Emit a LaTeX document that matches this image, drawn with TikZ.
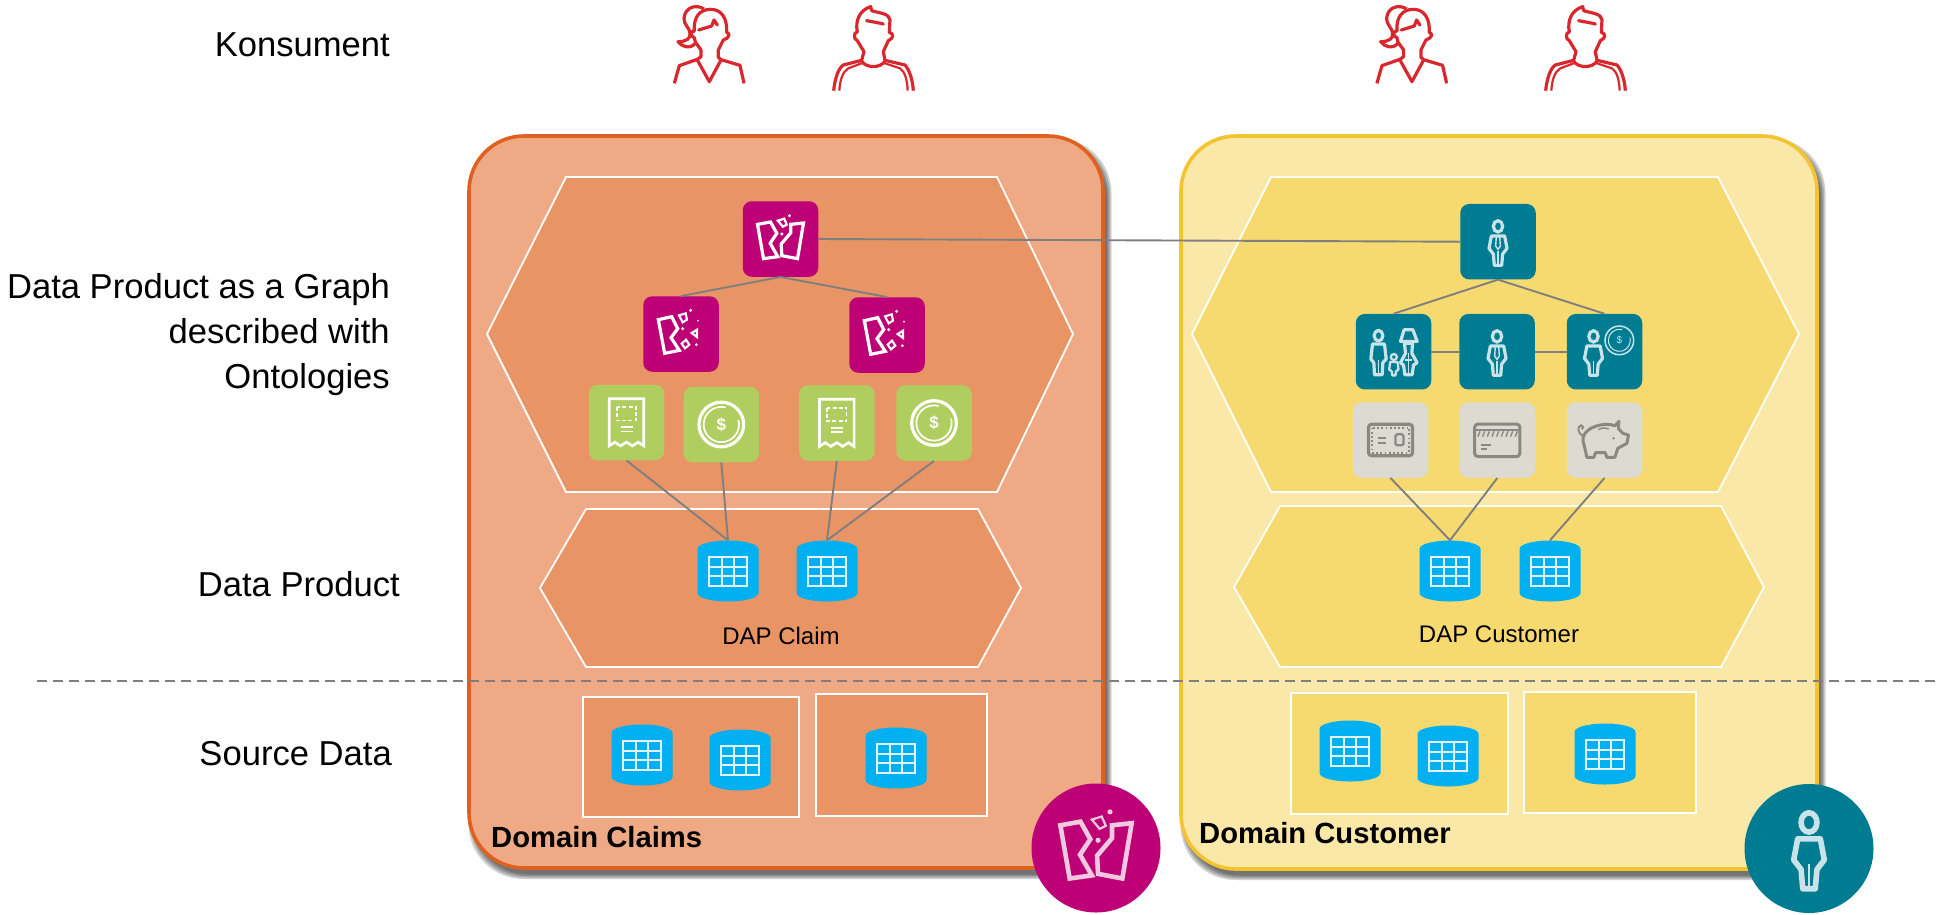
\documentclass[tikz,border=0pt]{standalone}
\usepackage{fontspec}
\setmainfont{Liberation Sans}
\definecolor{claimline}{HTML}{E0601F}
\definecolor{claimfill}{HTML}{EFAA85}
\definecolor{claimhex}{HTML}{E99465}
\definecolor{custline}{HTML}{F4C430}
\definecolor{custfill}{HTML}{FAE8A8}
\definecolor{custhex}{HTML}{F7DA6F}
\definecolor{magentaB}{HTML}{BE0076}
\definecolor{tealB}{HTML}{007C92}
\definecolor{greenB}{HTML}{AFCE5F}
\definecolor{greyB}{HTML}{DDDAD2}
\definecolor{greyI}{HTML}{8A8880}
\definecolor{dbblue}{HTML}{00B0F0}
\definecolor{dbgrid}{HTML}{E3F4FC}
\definecolor{linkgrey}{HTML}{7F7F7F}
\definecolor{userred}{HTML}{D9272E}
\definecolor{pplblue}{HTML}{C9E3E9}
\definecolor{pinklite}{HTML}{F0C8E0}
\newcommand\iconlw{3.2pt}
\tikzset{
  lbl/.style={inner sep=0pt,anchor=east,align=right,font=\fontsize{34.6}{44.6}\selectfont},
  daplbl/.style={inner sep=0pt,font=\fontsize{24}{28}\selectfont},
  domlbl/.style={inner sep=0pt,anchor=west,font=\fontsize{29.2}{33}\bfseries\selectfont},
  panel/.style={rectangle,draw,line width=3.6pt,rounded corners=55pt,minimum width=#1},
  hexa/.style={line width=1.8pt,draw=white},
  srcbox/.style={line width=2pt,draw=white},
  iconbox/.style={rectangle,rounded corners=9pt,minimum size=75.5pt,inner sep=0pt},
  dbanchor/.style={rectangle,minimum size=61pt,inner sep=0pt},
  disc/.style={circle,minimum size=129pt,inner sep=0pt},
  link/.style={draw=linkgrey,line width=1.9pt},
  zoomed/.style={x=.3333pt,y=-.3333pt},
  ic/.style={draw=#1,line width=\iconlw,line join=miter},
  pics/dbicon/.style={code={
    \fill[dbblue] (-30.5,-22) .. controls (-30.5,-27) and (-16,-30.5) .. (0,-30.5)
      .. controls (16,-30.5) and (30.5,-27) .. (30.5,-22) -- (30.5,22)
      .. controls (30.5,27) and (16,30.5) .. (0,30.5)
      .. controls (-16,30.5) and (-30.5,27) .. (-30.5,22) -- cycle;
    \fill[dbgrid] (-20,-15.5) rectangle (20,15.5);
    \foreach \cx in {-18.2,-5.4,7.4}{\foreach \cy in {-13,-3.3,6.4}{
      \fill[dbblue] (\cx,\cy) rectangle (\cx+10.8,\cy+7.6);}}
  }},
  pics/claimwhole/.style={code={
    \begin{scope}[zoomed,shift={(-661,-177)}]
      \draw[ic=#1] (592,133)--(631,126)--(650,160)--(630,190)--(653,230)--(610,236)--cycle;
      \draw[ic=#1] (692,133)--(730,129)--(712,236)--(665,227)--(663,192)--(692,158)--cycle;
      \draw[ic=#1,line width=2.2pt] (653,122)--(672,116)--(680,134)--(668,140)--cycle;
      \fill[#1] (688,107) circle[radius=5] (665,162) circle[radius=5];
    \end{scope}
  }},
  pics/claimshard/.style={code={
    \begin{scope}[zoomed,shift={(-362,-461)}]
      \draw[ic=#1] (294,418)--(334,409)--(352,445)--(332,472)--(357,510)--(313,519)--cycle;
      \draw[ic=#1,line width=2.1pt] (356,405)--(376,399)--(380,418)--(367,426)--cycle;
      \draw[ic=#1,line width=2.1pt] (394,458)--(410,448)--(410,470)--cycle;
      \draw[ic=#1,line width=2.1pt] (364,490)--(377,478)--(387,493)--(374,504)--cycle;
      \fill[#1] (391,390) circle[radius=5] (413,421) circle[radius=3] (367,445) circle[radius=5] (408,493) circle[radius=4.5];
    \end{scope}
  }},
  pics/receipt/.style={code={
    \begin{scope}[zoomed,shift={(-199,-728)}]
      \draw[ic=#1,line width=2.7pt] (147,657)--(251,657)--(251,798)--(234,787)--(217,798)--(199,787)--(181,798)--(164,787)--(147,798)--cycle;
      \draw[ic=#1,line width=1.7pt,dash pattern=on 4pt off 2.2pt] (170,682) rectangle (228,722);
      \draw[ic=#1,line width=1.7pt] (182,742)--(217,742) (182,755)--(217,755);
    \end{scope}
  }},
  pics/coin/.style={code={
    \begin{scope}[zoomed]
      \draw[ic=#1,line width=3.2pt] (0,0) circle[radius=67];
      \draw[ic=#1,line width=1.7pt] ([shift={(-15:53)}]0,0) arc[start angle=-15,end angle=285,radius=53];
      \node[text=#1,inner sep=0pt,font=\fontsize{17}{17}\bfseries\selectfont] (dollar) at (0,0) {\$};
    \end{scope}
  }},
  pics/personPlain/.style={code={
    \begin{scope}[zoomed,shift={(-534,-185)}]
      \draw[ic=#1] (534,139) ellipse[x radius=14,y radius=17];
      \draw[ic=#1,line join=round] (514,168)--(554,168)--(561,205)--(548,222)--(545,256)--(523,256)--(520,222)--(507,205)--cycle;
      \draw[ic=#1,line width=1.5pt] (534,212)--(534,256);
    \end{scope}
  }},
  pics/personTie/.style={code={
    \pic {personPlain=#1};
    \begin{scope}[zoomed,shift={(-534,-185)}]
      \draw[ic=#1,line width=1.4pt] (529,168)--(527,198)--(534,208)--(541,198)--(539,168);
    \end{scope}
  }},
  pics/personCoin/.style={code={
    \pic at (-11,0) {personPlain=#1};
    \begin{scope}[zoomed,shift={(-853.5,-515)}]
      \draw[ic=#1,line width=1.5pt] (898,481) circle[radius=43];
      \draw[ic=#1,line width=1pt] ([shift={(-15:33)}]898,481) arc[start angle=-15,end angle=285,radius=33];
      \node[text=#1,inner sep=0pt,font=\fontsize{10}{10}\selectfont] (dollarsmall) at (898,481) {\$};
    \end{scope}
  }},
  pics/family/.style={code={
    \begin{scope}[zoomed,shift={(-220,-515)}]
      \draw[ic=#1,line join=round] (175,467) ellipse[x radius=13,y radius=16];
      \draw[ic=#1,line join=round] (157,492)--(193,492)--(198,537)--(188,548)--(186,584)--(163,584)--(161,548)--(152,537)--cycle;
      \draw[ic=#1,line width=1.5pt] (175,540)--(175,584);
      \draw[ic=#1,line width=2.3pt] (221,531) circle[radius=9];
      \draw[ic=#1,line width=2.3pt,line join=round] (210,546)--(232,546)--(235,568)--(227,575)--(226,586)--(216,586)--(215,575)--(207,568)--cycle;
      \draw[ic=#1,line join=round] (252,449)--(278,449)--(291,484)--(241,484)--cycle;
      \draw[ic=#1,line join=round] (253,490)--(277,490)--(275,520)--(291,548)--(280,555)--(276,584)--(254,584)--(250,555)--(241,548)--(256,520)--cycle;
      \draw[ic=#1,line width=1.5pt] (255,540)--(276,540) (265,520)--(265,584);
    \end{scope}
  }},
  pics/stamp/.style={code={
    \begin{scope}[zoomed,shift={(-211,-787)}]
      \draw[ic=#1,line width=3.2pt,rounded corners=3pt] (145,740) rectangle (277,834);
      \draw[ic=#1,line width=1.8pt,dash pattern=on 1.8pt off 2.4pt] (155,750) rectangle (267,825);
      \draw[ic=#1,line width=1.7pt] (172,780)--(197,780) (172,797)--(197,797);
      \draw[ic=#1,line width=2.2pt,rounded corners=1.5pt] (226,770) rectangle (250,803);
    \end{scope}
  }},
  pics/card/.style={code={
    \begin{scope}[zoomed,shift={(-532,-780)}]
      \draw[ic=#1,line width=3pt,rounded corners=3.5pt] (464,732) rectangle (600,830);
      \draw[ic=#1,line width=1.4pt] (464,750)--(600,750);
      \foreach \sx in {474,488,...,586}{\draw[ic=#1,line width=1.4pt] (\sx,770)--(\sx+6,754);}
      \draw[ic=#1,line width=1.6pt] (483,795)--(513,795) (483,807)--(500,807);
    \end{scope}
  }},
  pics/piggy/.style={code={
    \begin{scope}[zoomed,shift={(-853,-780)}]
      \draw[ic=#1,line width=3pt,line join=round] (789,772) .. controls (795,742) and (850,725) .. (885,737)
        -- (896,724) -- (895,746) -- (908,760) -- (925,765) -- (920,790) -- (893,805)
        -- (884,832) -- (860,832) -- (855,818) -- (826,818) -- (821,832) -- (800,832)
        -- (793,800) .. controls (789,790) and (788,782) .. (789,772) -- cycle;
      \draw[ic=#1,line width=1.9pt] (789,768) .. controls (772,762) and (770,738) .. (783,736) .. controls (790,736) and (791,746) .. (785,748);
      \draw[ic=#1,line width=1.5pt] (835,749) .. controls (845,743) and (855,743) .. (866,747);
      \fill[#1] (880,775) circle[radius=4];
    \end{scope}
  }},
  pics/womanIcon/.style={code={
    \begin{scope}[zoomed]
      \draw[ic=userred,line join=round] (103,250) -- (118,197) -- (172,178) -- (183,170) -- (183,150) -- (166,126) -- (163,113) .. controls (150,110) and (150,92) .. (163,93)
        .. controls (160,50) and (180,28) .. (212,28) .. controls (245,28) and (262,55) .. (260,97)
        .. controls (272,100) and (268,115) .. (250,120) -- (235,150) -- (235,172) -- (243,179) -- (300,196) -- (312,250);
      \draw[ic=userred,line join=round] (172,180) -- (208,245) -- (243,180);
      \draw[ic=userred,line join=round] (192,27) .. controls (170,12) and (135,20) .. (132,55) .. controls (130,72) and (150,85) .. (150,100)
        .. controls (152,115) and (140,125) .. (114,125) .. controls (125,140) and (150,150) .. (168,128);
      \draw[ic=userred,line cap=round,line join=round] (176,90) -- (215,78) -- (222,60) -- (232,75);
    \end{scope}
  }},
  pics/manIcon/.style={code={
    \begin{scope}[zoomed]
      \draw[ic=userred,line join=round] (581,272) .. controls (585,235) and (595,205) .. (610,195) -- (665,181) -- (672,155) -- (652,122) .. controls (640,118) and (640,97) .. (652,96)
        .. controls (645,60) and (660,30) .. (692,20) -- (695,32) .. controls (720,40) and (748,40) .. (750,60) -- (748,97) .. controls (762,100) and (762,115) .. (745,122) -- (730,155) -- (735,181)
        -- (795,195) .. controls (805,205) and (818,235) .. (820,272);
      \draw[ic=userred,line width=2.2pt] (598,272) .. controls (600,240) and (608,215) .. (625,205) -- (665,190);
      \draw[ic=userred,line width=2.2pt] (803,272) .. controls (802,240) and (795,215) .. (780,205) -- (735,190);
      \draw[ic=userred] (665,184) .. controls (680,205) and (720,205) .. (735,184);
      \draw[ic=userred,line cap=round] (680,62) .. controls (700,66) and (715,68) .. (730,72);
    \end{scope}
  }},
}
\newcommand\dbat[2]{\node[dbanchor] (#1) at (#2) {}; \pic at (#1) {dbicon};}
\begin{document}
\begin{tikzpicture}[x=1pt,y=-1pt]
\useasboundingbox (0,0) rectangle (1941,914);
% shadows
\foreach \b in {0,1.5,3,4.5}{
  \fill[black,opacity=.18,rounded corners=55pt] (469+4-\b,136+6.5-\b) rectangle (1103+4+\b,868+6.5+\b);
  \fill[black,opacity=.18,rounded corners=55pt] (1181+4-\b,136+6.5-\b) rectangle (1817+4+\b,869+6.5+\b);
}
% panels
\node[panel=634pt,minimum height=732pt,draw=claimline,fill=claimfill] (claimspanel) at (786,502) {};
\node[panel=636pt,minimum height=733pt,draw=custline,fill=custfill] (custpanel) at (1499,502.5) {};
% hexagons
\fill[claimhex] (487,334)--(566,177)--(997,177)--(1073,334)--(997,492)--(566,492)--cycle;
\draw[hexa] (487,334)--(566,177)--(997,177)--(1073,334)--(997,492)--(566,492)--cycle;
\fill[claimhex] (540,588)--(586,509)--(978,509)--(1021,588)--(978,667)--(586,667)--cycle;
\draw[hexa] (540,588)--(586,509)--(978,509)--(1021,588)--(978,667)--(586,667)--cycle;
\fill[custhex] (1192,334)--(1271,177)--(1718,177)--(1799,334)--(1718,492)--(1271,492)--cycle;
\draw[hexa] (1192,334)--(1271,177)--(1718,177)--(1799,334)--(1718,492)--(1271,492)--cycle;
\fill[custhex] (1234,587)--(1280,506)--(1721,506)--(1764,587)--(1721,667)--(1280,667)--cycle;
\draw[hexa] (1234,587)--(1280,506)--(1721,506)--(1764,587)--(1721,667)--(1280,667)--cycle;
% source boxes
\filldraw[srcbox,fill=claimhex] (583,697) rectangle (799,817);
\filldraw[srcbox,fill=claimhex] (816,694) rectangle (987,816);
\filldraw[srcbox,fill=custhex] (1291,693) rectangle (1508,814);
\filldraw[srcbox,fill=custhex] (1524,692) rectangle (1696,813);
% database nodes
\dbat{dpa}{728,571}
\dbat{dpb}{827,571}
\dbat{dpc}{1450,571}
\dbat{dpd}{1550,571}
\dbat{sa}{642,755}
\dbat{sb}{740,760}
\dbat{sc}{896,758}
\dbat{sd}{1350,751}
\dbat{se}{1448,756}
\dbat{sf}{1605,754}
% magenta boxes
\node[iconbox,fill=magentaB] (claim) at (780.5,239) {};
\pic at (claim) {claimwhole=white};
\node[iconbox,fill=magentaB] (claimL) at (681,334) {};
\pic at (claimL) {claimshard=white};
\node[iconbox,fill=magentaB] (claimR) at (887,335) {};
\pic at (claimR) {claimshard=white};
% green boxes
\node[iconbox,fill=greenB] (rcptA) at (626.5,422.5) {};
\pic at (rcptA) {receipt=white};
\node[iconbox,fill=greenB] (coinA) at (721.3,424.5) {};
\pic at (coinA) {coin=white};
\node[iconbox,fill=greenB] (rcptB) at (836.8,423) {};
\pic at (rcptB) {receipt=white};
\node[iconbox,fill=greenB] (coinB) at (934,423) {};
\pic at (coinB) {coin=white};
% teal boxes
\node[iconbox,fill=tealB] (cust) at (1498,241.7) {};
\pic at (cust) {personTie=pplblue};
\node[iconbox,fill=tealB] (fam) at (1393.5,351.7) {};
\pic at (fam) {family=pplblue};
\node[iconbox,fill=tealB] (cust2) at (1497,351.7) {};
\pic at (cust2) {personTie=pplblue};
\node[iconbox,fill=tealB] (wealth) at (1604.5,351.7) {};
\pic at (wealth) {personCoin=pplblue};
% grey boxes
\node[iconbox,fill=greyB] (gstamp) at (1390.5,440) {};
\pic at (gstamp) {stamp=greyI};
\node[iconbox,fill=greyB] (gcard) at (1497.3,440) {};
\pic at (gcard) {card=greyI};
\node[iconbox,fill=greyB] (gpig) at (1604.5,440) {};
\pic at (gpig) {piggy=greyI};
% connectors
\draw[link] (claim.east) -- (cust.west);
\draw[link] (claim.south) -- (claimL.north);
\draw[link] (claim.south) -- (claimR.north);
\draw[link] (cust.south) -- (fam.north);
\draw[link] (cust.south) -- (wealth.north);
\draw[link] (fam.east) -- (cust2.west);
\draw[link] (cust2.east) -- (wealth.west);
\draw[link] (rcptA.south) -- (dpa.north);
\draw[link] (coinA.south) -- (dpa.north);
\draw[link] (rcptB.south) -- (dpb.north);
\draw[link] (coinB.south) -- (dpb.north);
\draw[link] (gstamp.south) -- (dpc.north);
\draw[link] (gcard.south) -- (dpc.north);
\draw[link] (gpig.south) -- (dpd.north);
% dashed divider
\coordinate (divL) at (37,681);
\coordinate (divR) at (1938,681);
\draw[draw=linkgrey,line width=1.7pt,dash pattern=on 10pt off 6pt] (divL) -- (divR);
% discs
\node[disc,fill=magentaB] (discClaim) at (1096,848) {};
\begin{scope}
  \renewcommand\iconlw{4.6pt}
  \pic[scale=1.55] at (discClaim) {claimwhole=pinklite};
\end{scope}
\node[disc,fill=tealB] (discCust) at (1809,848.5) {};
\begin{scope}
  \renewcommand\iconlw{5.6pt}
  \pic[scale=1.7] at (discCust) {personPlain=pplblue};
\end{scope}
% labels
\node[lbl] (lkons) at (390,45) {Konsument};
\node[lbl] (lgraph) at (390,334.5) {Data Product as a Graph\\described with\\Ontologies};
\node[lbl] (ldp) at (400,584) {Data Product};
\node[lbl] (lsrc) at (392,754) {Source Data};
\node[daplbl] (dapA) at (781,636) {DAP Claim};
\node[daplbl] (dapB) at (1499,634) {DAP Customer};
\node[domlbl] (domA) at (491,837) {Domain Claims};
\node[domlbl] (domB) at (1199,833) {Domain Customer};
% users
\pic at (640,0) {womanIcon};
\pic at (640,0) {manIcon};
\pic at (1342.6,0) {womanIcon};
\pic at (1352,0) {manIcon};
\end{tikzpicture}
\end{document}
